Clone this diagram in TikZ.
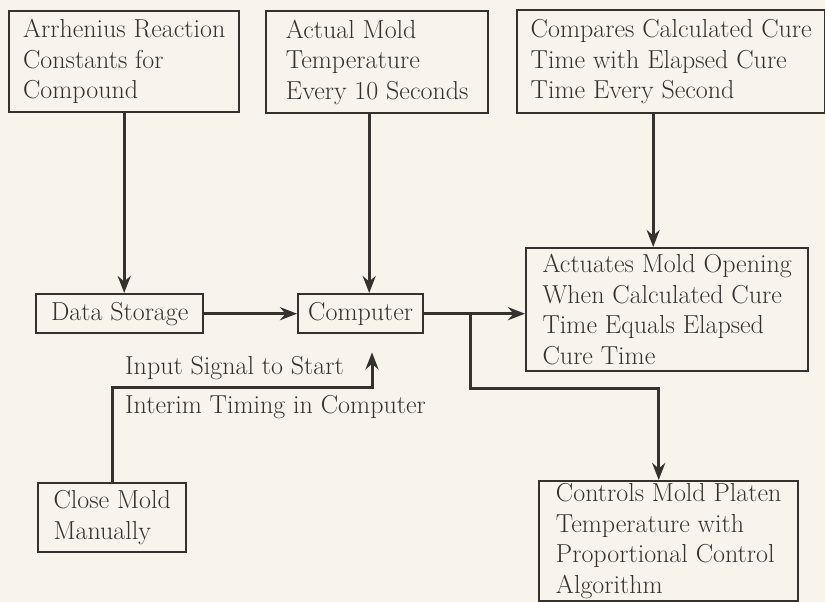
\documentclass[tikz,border=0pt]{standalone}
\usepackage{fontspec}
\usetikzlibrary{calc,arrows.meta}
\definecolor{ink}{HTML}{35312E}
\definecolor{paper}{HTML}{F8F4EC}

\begin{document}
\begin{tikzpicture}[x=1pt,y=-1pt,
   box/.style={draw=ink,line width=2.4pt,anchor=north west,align=left,inner sep=0pt,text=ink,font=\fontsize{26}{30.5}\selectfont},
   lbl/.style={anchor=west,inner sep=0pt,text=ink,font=\fontsize{26}{30.5}\selectfont},
   flow/.style={draw=ink,line width=3pt,-{Stealth[length=17pt,width=13pt]}}]

   \fill[paper] (0,0) rectangle (825,602);
   \useasboundingbox (0,0) rectangle (825,602);

   \coordinate (a1) at (8,10);
   \coordinate (a2) at (265,10);
   \coordinate (a3) at (516,9);
   \coordinate (b1) at (35,293);
   \coordinate (b2) at (297,293);
   \coordinate (b3) at (525,247);
   \coordinate (d1) at (37,482);
   \coordinate (d2) at (538,480);

   \coordinate (jn) at (372,387);

   \node[box,minimum width=230pt,minimum height=101pt] (arrh) at (a1) {Arrhenius Reaction\\Constants for\\Compound};
   \node[box,minimum width=222pt,minimum height=102pt] (mold) at (a2) {Actual Mold\\Temperature\\Every 10 Seconds};
   \node[box,minimum width=308pt,minimum height=103pt] (cmp) at (a3) {Compares Calculated Cure\\Time with Elapsed Cure\\Time Every Second};

   \node[box,minimum width=167pt,minimum height=39pt] (store) at (b1) {Data Storage};
   \node[box,minimum width=125pt,minimum height=39pt] (comp) at (b2) {Computer};
   \node[box,minimum width=282pt,minimum height=123pt] (act) at (b3) {Actuates Mold Opening\\When Calculated Cure\\Time Equals Elapsed\\Cure Time};

   \node[box,minimum width=148pt,minimum height=69pt] (close) at (d1) {Close Mold\\Manually};
   \node[box,minimum width=259pt,minimum height=120pt] (ctrl) at (d2) {Controls Mold Platen\\Temperature with\\Proportional Control\\Algorithm};

   \node[lbl] (sig) at (125,368) {Input Signal to Start};
   \node[lbl] (tim) at (125,407) {Interim Timing in Computer};

   \draw[flow] (arrh.south) -- (arrh.south |- store.north);
   \draw[flow] ([xshift=-8pt]mold.south) -- ([xshift=-8pt]mold.south |- comp.north);
   \draw[flow] ([xshift=-18pt]cmp.south) -- ([xshift=-18pt]cmp.south |- act.north);

   \draw[flow] (store.east) -- (comp.west);
   \draw[flow] (comp.east) -- (act.west |- comp.east);

   % branch to platen control
   \coordinate (split) at ($(comp.east)+(46,0)$);
   \draw[flow] (split) -- ++(0,74.5) -| ([xshift=-10pt]ctrl.north);

   %\draw[flow] (close.north) |- (comp.south);
   \draw[flow,shorten >=18pt] (close.north) |- (jn) -- (jn |- comp.south);

\end{tikzpicture}
\end{document}
